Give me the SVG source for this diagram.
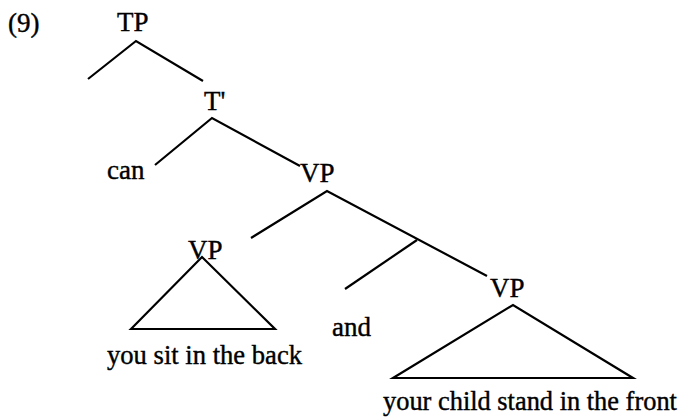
<svg xmlns="http://www.w3.org/2000/svg" width="681" height="417" viewBox="0 0 681 417">
<style>
text{font-family:"Liberation Serif","Times New Roman",serif;font-size:27px;fill:#000;stroke:#000;stroke-width:0.4}
.e{stroke:#000;stroke-width:2.2;fill:none;stroke-linejoin:miter}
</style>
<rect width="681" height="417" fill="#fff"/>
<text id="num" x="8" y="32">(9)</text>
<g id="connectors">
<path class="e" d="M88,79 L136,41 L203,81"/>
<path class="e" d="M155,165 L212,118 L300,166"/>
<path class="e" d="M251,238 L327,191 L487,276"/>
<path class="e" d="M417,240 L345,289"/>
</g>
<g id="TP"><text x="117" y="31">TP</text></g>
<g id="Tbar"><text x="204" y="110">T'</text></g>
<g id="can"><text x="107" y="179">can</text></g>
<g id="VP1"><text x="300" y="182">VP</text></g>
<g id="VP2"><text x="188" y="259">VP</text>
<path class="e" d="M131,329 L202,257 L275,329 Z"/>
<text x="107" y="364" style="font-size:26.6px">you sit in the back</text></g>
<g id="and"><text x="332" y="336">and</text></g>
<g id="VP3"><text x="490" y="297">VP</text>
<path class="e" d="M393,378 L513,305 L633,378 Z"/>
<text x="383" y="410" style="font-size:26.4px">your child stand in the front</text></g>
</svg>
